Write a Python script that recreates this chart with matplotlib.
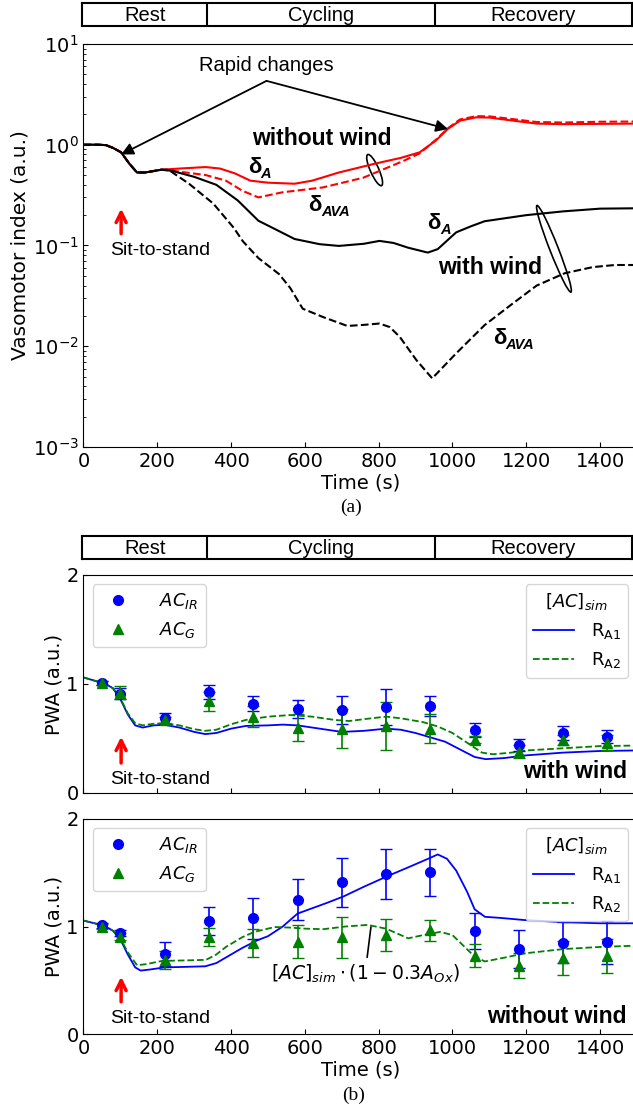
import numpy as np
import matplotlib
matplotlib.use("Agg")
import matplotlib.pyplot as plt
import matplotlib.transforms as mtransforms
from matplotlib.patches import Ellipse

# header bar phases
phases = ["Rest", "Cycling", "Recovery"]
phase_edges = [-3, 335, 950, 1484]

# (a) vasomotor index, without wind (red) and with wind (black)
t_red_a = [0, 40, 61, 80, 102, 124, 145, 167, 211, 260, 331, 370, 410, 452, 500, 572, 620,
           692, 791, 860, 911, 955, 988, 1020, 1064, 1100, 1150, 1228, 1300, 1400, 1500]
v_red_a = [1.0, 1.0, 0.99, 0.93, 0.84, 0.65, 0.53, 0.53, 0.565, 0.58, 0.60, 0.58, 0.52, 0.44, 0.42, 0.41, 0.44,
           0.53, 0.65, 0.74, 0.84, 1.10, 1.44, 1.73, 1.87, 1.86, 1.76, 1.62, 1.60, 1.61, 1.62]

t_red_ava = [0, 40, 61, 80, 102, 124, 145, 167, 211, 244, 331, 386, 430, 474, 539, 649, 758,
             867, 911, 955, 988, 1020, 1064, 1100, 1150, 1228, 1300, 1400, 1500]
v_red_ava = [1.0, 1.0, 0.99, 0.93, 0.84, 0.65, 0.53, 0.53, 0.565, 0.55, 0.50, 0.44, 0.35, 0.30, 0.337, 0.377, 0.47,
             0.69, 0.82, 1.12, 1.46, 1.78, 1.92, 1.91, 1.82, 1.68, 1.66, 1.69, 1.70]

t_blk_a = [0, 40, 61, 80, 102, 124, 145, 167, 211, 240, 300, 360, 418, 474, 528, 572, 640, 692,
           760, 802, 840, 880, 933, 960, 1010, 1050, 1087, 1200, 1300, 1400, 1500]
v_blk_a = [1.0, 1.0, 0.99, 0.93, 0.84, 0.65, 0.53, 0.53, 0.565, 0.55, 0.48, 0.40, 0.28, 0.176, 0.14, 0.116, 0.103, 0.099,
           0.104, 0.111, 0.106, 0.095, 0.085, 0.092, 0.135, 0.155, 0.174, 0.200, 0.218, 0.232, 0.234]

t_blk_ava = [0, 40, 61, 80, 102, 124, 145, 167, 211, 230, 286, 352, 407, 432, 474, 530, 560, 594,
             649, 715, 760, 802, 830, 857, 902, 945, 1010, 1087, 1160, 1228, 1304, 1380, 1440, 1500]
v_blk_ava = [1.0, 1.0, 0.99, 0.93, 0.84, 0.65, 0.53, 0.53, 0.565, 0.565, 0.41, 0.26, 0.15, 0.11, 0.075, 0.052, 0.038, 0.0236,
             0.0195, 0.0159, 0.0163, 0.0168, 0.0155, 0.0124, 0.0073, 0.0048, 0.0085, 0.0162, 0.026, 0.040, 0.053, 0.061, 0.064, 0.064]

# (b) measured points
t_meas = [50, 100, 220, 340, 460, 580, 700, 820, 940, 1060, 1180, 1300, 1420]

ir_ww = [1.01, 0.91, 0.685, 0.93, 0.82, 0.77, 0.76, 0.79, 0.80, 0.575, 0.44, 0.55, 0.515]
ir_ww_err = [0.02, 0.05, 0.05, 0.065, 0.067, 0.084, 0.128, 0.165, 0.09, 0.066, 0.058, 0.067, 0.058]
g_ww = [1.01, 0.92, 0.67, 0.84, 0.70, 0.60, 0.59, 0.61, 0.59, 0.49, 0.38, 0.49, 0.46]
g_ww_err = [0.02, 0.06, 0.03, 0.085, 0.095, 0.12, 0.176, 0.22, 0.13, 0.03, 0.06, 0.046, 0.07]

ir_nw = [1.01, 0.94, 0.745, 1.055, 1.075, 1.25, 1.41, 1.49, 1.505, 0.96, 0.79, 0.85, 0.855]
ir_nw_err = [0.02, 0.03, 0.115, 0.13, 0.19, 0.19, 0.23, 0.23, 0.22, 0.17, 0.175, 0.19, 0.2]
g_nw = [1.0, 0.905, 0.69, 0.905, 0.845, 0.86, 0.90, 0.92, 0.965, 0.73, 0.636, 0.705, 0.725]
g_nw_err = [0.02, 0.03, 0.085, 0.085, 0.13, 0.15, 0.19, 0.15, 0.10, 0.11, 0.115, 0.16, 0.16]

# (b) simulated curves, with wind
t_ra1_ww = [0, 30, 60, 80, 100, 120, 140, 160, 190, 220, 260, 300, 330, 360, 400, 440, 500, 540, 580,
            640, 700, 760, 820, 860, 900, 940, 980, 1020, 1060, 1090, 1140, 1200, 1300, 1400, 1500]
v_ra1_ww = [1.06, 1.03, 1.0, 0.96, 0.86, 0.72, 0.62, 0.60, 0.62, 0.625, 0.60, 0.56, 0.54, 0.55, 0.59, 0.615, 0.62, 0.627, 0.62,
            0.59, 0.56, 0.57, 0.59, 0.58, 0.55, 0.51, 0.47, 0.40, 0.33, 0.31, 0.32, 0.345, 0.37, 0.385, 0.39]
t_ra2_ww = [0, 30, 60, 80, 100, 120, 140, 160, 190, 220, 260, 300, 330, 360, 400, 440, 500, 560, 620,
            680, 720, 780, 820, 860, 920, 960, 1000, 1040, 1080, 1110, 1160, 1200, 1300, 1400, 1500]
v_ra2_ww = [1.06, 1.03, 1.0, 0.96, 0.87, 0.73, 0.64, 0.62, 0.635, 0.64, 0.62, 0.585, 0.57, 0.58, 0.63, 0.67, 0.70, 0.715, 0.70,
            0.67, 0.66, 0.685, 0.70, 0.685, 0.65, 0.61, 0.55, 0.46, 0.37, 0.355, 0.37, 0.39, 0.41, 0.43, 0.435]

# (b) simulated curves, without wind
t_ra1_nw = [0, 30, 60, 80, 100, 120, 140, 155, 180, 220, 280, 330, 360, 390, 430, 470, 500, 540, 580,
            620, 660, 705, 760, 825, 880, 934, 960, 985, 1010, 1040, 1060, 1088, 1130, 1195, 1300, 1400, 1500]
v_ra1_nw = [1.055, 1.03, 1.0, 0.96, 0.88, 0.74, 0.62, 0.59, 0.60, 0.62, 0.625, 0.63, 0.66, 0.72, 0.80, 0.87, 0.91, 1.0, 1.12,
            1.17, 1.22, 1.28, 1.37, 1.47, 1.55, 1.63, 1.67, 1.63, 1.52, 1.32, 1.16, 1.09, 1.08, 1.06, 1.04, 1.03, 1.03]
t_ra2_nw = [0, 30, 60, 80, 100, 120, 145, 170, 213, 280, 332, 360, 386, 430, 463, 518, 560, 600, 650,
            710, 770, 820, 880, 920, 967, 1000, 1030, 1060, 1088, 1140, 1195, 1300, 1400, 1500]
v_ra2_nw = [1.055, 1.03, 1.0, 0.96, 0.89, 0.76, 0.64, 0.65, 0.68, 0.685, 0.69, 0.74, 0.81, 0.90, 0.95, 0.995, 0.99, 0.98, 0.975,
            1.0, 1.015, 0.98, 0.89, 0.92, 0.95, 0.92, 0.82, 0.72, 0.675, 0.71, 0.75, 0.79, 0.81, 0.822]

SANS = "Liberation Sans"
fig = plt.figure(figsize=(6.33, 11.07), dpi=100)

L, W = 0.1319, 0.8744


def header(y0):
    hx = fig.add_axes([0.1303, y0, 0.8681, 0.0208])
    hx.set_xlim(phase_edges[0], phase_edges[-1])
    hx.set_ylim(0, 1)
    hx.set_xticks([])
    hx.set_yticks([])
    for sp in hx.spines.values():
        sp.set_linewidth(1.5)
    for e in phase_edges[1:-1]:
        hx.axvline(e, color="k", lw=1.5)
    for i, name in enumerate(phases):
        hx.text((phase_edges[i] + phase_edges[i + 1]) / 2, 0.45, name, ha="center", va="center",
                family=SANS, fontsize=14.5)


def style(ax):
    ax.tick_params(direction="in", labelsize=14, which="both")
    ax.set_xlim(0, 1500)
    ax.set_xticks(np.arange(0, 1500, 200))


def oval(ax, x, y, length, minor, angle):
    tr = fig.dpi_scale_trans + mtransforms.ScaledTranslation(x, y, ax.transData)
    ax.add_patch(Ellipse((0, 0), length, minor, angle=angle, transform=tr,
                         fill=False, ec="k", lw=1.2))


def delta(ax, x, y, sub):
    d = ax.text(x, y, "δ", ha="left", va="center", family=SANS, fontweight="bold", fontsize=16)
    ax.annotate(sub, xy=(0.95, 0.2), xycoords=d, ha="left", va="center", family=SANS,
                fontweight="bold", style="italic", fontsize=10.5)


def sit_arrow(ax, top, bottom, ty):
    ax.annotate("", xy=(102, top), xytext=(102, bottom),
                arrowprops=dict(arrowstyle="->", color="r", lw=2.5, mutation_scale=18,
                                shrinkA=0, shrinkB=0))
    ax.text(207, ty, "Sit-to-stand", ha="center", va="center", family=SANS, fontsize=14)


# ---------- (a) ----------
header(0.9765)
axa = fig.add_axes([L, 0.5962, W, 0.3641])
axa.plot(t_red_a, v_red_a, color="r", lw=1.5)
axa.plot(t_red_ava, v_red_ava, color="r", lw=1.5, ls="--")
axa.plot(t_blk_a, v_blk_a, color="k", lw=1.5)
axa.plot(t_blk_ava, v_blk_ava, color="k", lw=1.5, ls="--")
axa.set_yscale("log")
axa.set_ylim(1e-3, 1e1)
style(axa)
axa.set_xlabel("Time (s)", fontsize=14, labelpad=2)
axa.set_ylabel("Vasomotor index (a.u.)", fontsize=14.5)
axa.yaxis.set_label_coords(-0.098, 0.5)

axa.text(496, 6.05, "Rapid changes", ha="center", va="center", family=SANS, fontsize=14.5)
for tgt in [(102, 0.80), (988, 1.43)]:
    axa.annotate("", xy=tgt, xytext=(496, 4.3),
                 arrowprops=dict(arrowstyle="-|>", color="k", lw=1.3, mutation_scale=18,
                                 shrinkA=0, shrinkB=0))

axa.text(646, 1.14, "without wind", ha="center", va="center", family=SANS,
         fontweight="bold", fontsize=16.5)
axa.text(1103, 0.061, "with wind", ha="center", va="center", family=SANS,
         fontweight="bold", fontsize=16.5)
delta(axa, 446, 0.595, "A")
delta(axa, 610, 0.249, "AVA")
delta(axa, 932, 0.165, "A")
delta(axa, 1109, 0.012, "AVA")

oval(axa, 789, 0.56, 0.34, 0.085, -66)
oval(axa, 1275, 0.0927, 0.93, 0.085, -68.6)

sit_arrow(axa, 0.232, 0.131, 0.089)
fig.text(0.555, 1 - 507 / 1107, "(a)", ha="center", va="center", family="Liberation Serif", fontsize=14)

# ---------- (b) ----------
header(0.4950)


def panel(ax, ir, ir_err, g, g_err, t1, v1, t2, v2):
    ax.plot(t1, v1, color="b", lw=1.3)
    ax.plot(t2, v2, color="g", lw=1.3, ls="--")
    ax.errorbar(t_meas, ir, yerr=ir_err, fmt="none", ecolor="b", elinewidth=1.2, capsize=4)
    ax.errorbar(t_meas, g, yerr=g_err, fmt="none", ecolor="g", elinewidth=1.2, capsize=4)
    h1, = ax.plot(t_meas, ir, "o", color="b", ms=7, ls="none")
    h2, = ax.plot(t_meas, g, "^", color="g", ms=6.5, ls="none")
    ax.set_ylim(0, 2)
    ax.set_yticks([0, 1, 2])
    style(ax)
    ax.set_ylabel("PWA (a.u.)", fontsize=14)
    ax.yaxis.set_label_coords(-0.037, 0.5)
    leg1 = ax.legend([h1, h2], [r"$AC_{IR}$", r"$AC_{G}$"], loc="upper left", fontsize=13,
                     handletextpad=1.3)
    ax.add_artist(leg1)
    l1 = plt.Line2D([], [], color="b", lw=1.3)
    l2 = plt.Line2D([], [], color="g", lw=1.3, ls="--")
    ax.legend([l1, l2], [r"R$_{\rm A1}$", r"R$_{\rm A2}$"], loc="upper right", fontsize=13,
              title=r"$[AC]_{sim}$", title_fontsize=13, handlelength=2.3, handletextpad=0.9)


axb = fig.add_axes([L, 0.2837, W, 0.1969])
panel(axb, ir_ww, ir_ww_err, g_ww, g_ww_err, t_ra1_ww, v_ra1_ww, t_ra2_ww, v_ra2_ww)
axb.tick_params(labelbottom=False)
axb.text(1473, 0.195, "with wind", ha="right", va="center", family=SANS,
         fontweight="bold", fontsize=16.5)
sit_arrow(axb, 0.516, 0.275, 0.12)

axc = fig.add_axes([L, 0.0659, W, 0.1943])
panel(axc, ir_nw, ir_nw_err, g_nw, g_nw_err, t_ra1_nw, v_ra1_nw, t_ra2_nw, v_ra2_nw)
axc.set_xlabel("Time (s)", fontsize=14, labelpad=2)
axc.text(1473, 0.165, "without wind", ha="right", va="center", family=SANS,
         fontweight="bold", fontsize=16.5)
sit_arrow(axc, 0.533, 0.30, 0.149)
axc.annotate(r"$[AC]_{sim}\cdot(1-0.3A_{Ox})$", xy=(779, 0.995), xytext=(763, 0.558),
             ha="center", va="center", fontsize=13.5,
             arrowprops=dict(arrowstyle="-", color="k", lw=1.2, shrinkA=2, shrinkB=0))
fig.text(0.558, 1 - 1095 / 1107, "(b)", ha="center", va="center", family="Liberation Serif", fontsize=14)

fig.savefig("out.png", dpi=100)
